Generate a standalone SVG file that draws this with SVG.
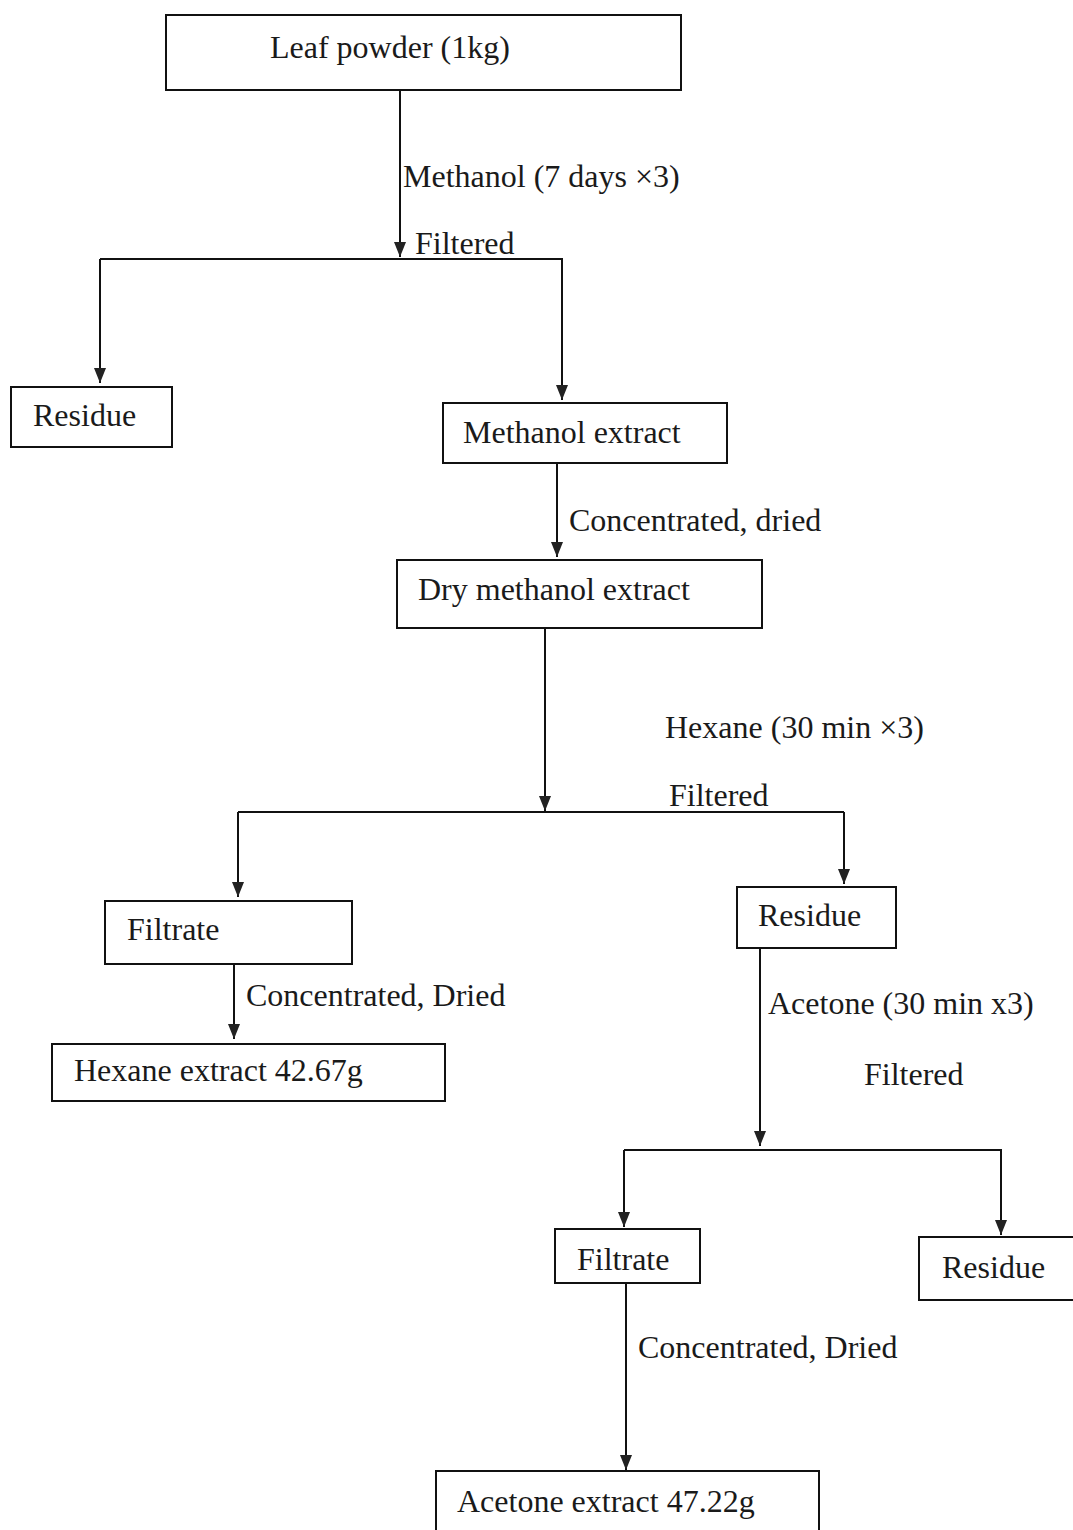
<svg xmlns="http://www.w3.org/2000/svg" width="1073" height="1530" viewBox="0 0 1073 1530">
<style>
.box{fill:#fff;stroke:#111;stroke-width:2}
.t{font-family:"Liberation Serif","Times New Roman",serif;font-size:32px;fill:#1a1a1a}
.c{fill:none;stroke:#111;stroke-width:2}
</style>
<defs>
<marker id="a" viewBox="0 0 15 12" markerWidth="15" markerHeight="12" refX="15" refY="6" orient="auto" markerUnits="userSpaceOnUse">
<path d="M0,0 L15,6 L0,12 Z" fill="#222"/>
</marker>
</defs>
<rect width="1073" height="1530" fill="#fff"/>
<g id="connectors">
<path class="c" d="M400,90 L400,257" marker-end="url(#a)"/>
<path class="c" d="M100,259 L563,259"/>
<path class="c" d="M100,259 L100,383" marker-end="url(#a)"/>
<path class="c" d="M562,259 L562,400" marker-end="url(#a)"/>
<path class="c" d="M557,463 L557,557" marker-end="url(#a)"/>
<path class="c" d="M545,628 L545,811" marker-end="url(#a)"/>
<path class="c" d="M238,812 L844,812"/>
<path class="c" d="M238,812 L238,897" marker-end="url(#a)"/>
<path class="c" d="M844,812 L844,884" marker-end="url(#a)"/>
<path class="c" d="M234,964 L234,1039" marker-end="url(#a)"/>
<path class="c" d="M760,948 L760,1146" marker-end="url(#a)"/>
<path class="c" d="M624,1150 L1002,1150"/>
<path class="c" d="M624,1150 L624,1227" marker-end="url(#a)"/>
<path class="c" d="M1001,1150 L1001,1235" marker-end="url(#a)"/>
<path class="c" d="M626,1283 L626,1470" marker-end="url(#a)"/>
<text class="t" x="403" y="187">Methanol (7 days ×3)</text>
<text class="t" x="415" y="254">Filtered</text>
<text class="t" x="569" y="531">Concentrated, dried</text>
<text class="t" x="665" y="738">Hexane (30 min ×3)</text>
<text class="t" x="669" y="806">Filtered</text>
<text class="t" x="246" y="1006">Concentrated, Dried</text>
<text class="t" x="768" y="1014">Acetone (30 min x3)</text>
<text class="t" x="864" y="1085">Filtered</text>
<text class="t" x="638" y="1358">Concentrated, Dried</text>
</g>
<g id="leaf-powder"><rect class="box" x="166" y="15" width="515" height="75"/><text class="t" x="270" y="58">Leaf powder (1kg)</text></g>
<g id="residue-1"><rect class="box" x="11" y="387" width="161" height="60"/><text class="t" x="33" y="426">Residue</text></g>
<g id="methanol-extract"><rect class="box" x="443" y="403" width="284" height="60"/><text class="t" x="463" y="443">Methanol extract</text></g>
<g id="dry-methanol-extract"><rect class="box" x="397" y="560" width="365" height="68"/><text class="t" x="418" y="600">Dry methanol extract</text></g>
<g id="filtrate-1"><rect class="box" x="105" y="901" width="247" height="63"/><text class="t" x="127" y="940">Filtrate</text></g>
<g id="residue-2"><rect class="box" x="737" y="887" width="159" height="61"/><text class="t" x="758" y="926">Residue</text></g>
<g id="hexane-extract"><rect class="box" x="52" y="1044" width="393" height="57"/><text class="t" x="74" y="1081">Hexane extract 42.67g</text></g>
<g id="filtrate-2"><rect class="box" x="555" y="1229" width="145" height="54"/><text class="t" x="577" y="1270">Filtrate</text></g>
<g id="residue-3"><rect class="box" x="919" y="1237" width="160" height="63"/><text class="t" x="942" y="1278">Residue</text></g>
<g id="acetone-extract"><rect class="box" x="436" y="1471" width="383" height="65"/><text class="t" x="457" y="1512">Acetone extract 47.22g</text></g>
</svg>
